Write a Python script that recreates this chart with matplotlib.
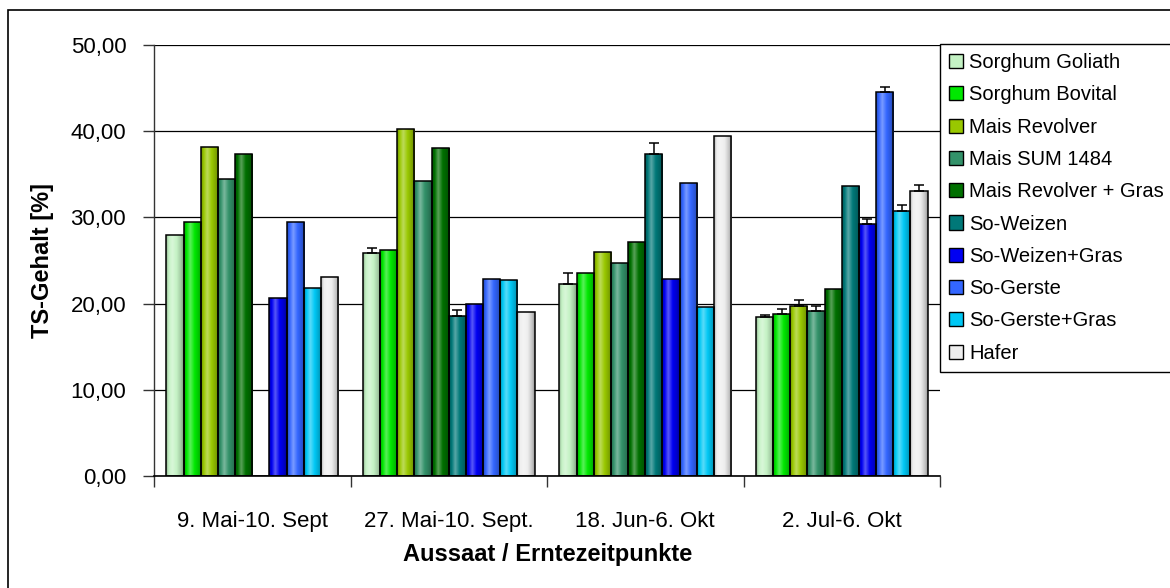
import matplotlib
matplotlib.use('Agg')
import matplotlib.pyplot as plt
import matplotlib.colors as mcolors
from matplotlib.patches import Rectangle
import numpy as np

plt.rcParams['font.family'] = ['Liberation Sans', 'DejaVu Sans']

# Aussaat / Erntezeitpunkte
categories = ['9. Mai-10. Sept', '27. Mai-10. Sept.', '18. Jun-6. Okt', '2. Jul-6. Okt']
series_names = ['Sorghum Goliath', 'Sorghum Bovital', 'Mais Revolver', 'Mais SUM 1484',
                'Mais Revolver + Gras', 'So-Weizen', 'So-Weizen+Gras', 'So-Gerste',
                'So-Gerste+Gras', 'Hafer']

# TS-Gehalt [%] je Sorte und Termin
goliath = [28.0, 25.9, 22.3, 18.5]
bovital = [29.5, 26.2, 23.6, 18.8]
mais_revolver = [38.2, 40.2, 26.0, 19.7]
mais_sum = [34.5, 34.2, 24.7, 19.1]
mais_rev_gras = [37.4, 38.0, 27.1, 21.7]
so_weizen = [0.0, 18.6, 37.4, 33.6]
so_weizen_gras = [20.6, 20.0, 22.9, 29.2]
so_gerste = [29.5, 22.9, 34.0, 44.5]
so_gerste_gras = [21.8, 22.7, 19.6, 30.7]
hafer = [23.1, 19.0, 39.4, 33.1]

# Fehlerbalken (nur nach oben)
err_goliath = [0.0, 0.6, 1.2, 0.15]
err_bovital = [0.0, 0.0, 0.0, 0.6]
err_mais_revolver = [0.0, 0.0, 0.0, 0.75]
err_mais_sum = [0.0, 0.0, 0.0, 0.65]
err_mais_rev_gras = [0.0, 0.0, 0.0, 0.0]
err_so_weizen = [0.0, 0.6, 1.2, 0.0]
err_so_weizen_gras = [0.0, 0.0, 0.0, 0.6]
err_so_gerste = [0.0, 0.0, 0.0, 0.6]
err_so_gerste_gras = [0.0, 0.0, 0.0, 0.7]
err_hafer = [0.0, 0.0, 0.0, 0.65]

values = [goliath, bovital, mais_revolver, mais_sum, mais_rev_gras,
          so_weizen, so_weizen_gras, so_gerste, so_gerste_gras, hafer]
errors = [err_goliath, err_bovital, err_mais_revolver, err_mais_sum, err_mais_rev_gras,
          err_so_weizen, err_so_weizen_gras, err_so_gerste, err_so_gerste_gras, err_hafer]
colors = ['#c4f2c4', '#00e800', '#99c800', '#33926a', '#007000',
          '#007878', '#0000f2', '#3366ff', '#00c8f5', '#eeeeee']


def shade(c, f):
    # f<1 darker, f>1 lighter (towards white)
    rgb = np.array(mcolors.to_rgb(c))
    if f < 1:
        return rgb * f
    return rgb + (1 - rgb) * (f - 1)


def gradient(c, n=64):
    stops = [(0.0, 0.72), (0.12, 0.95), (0.35, 1.35), (0.6, 1.0), (0.85, 0.82), (1.0, 0.62)]
    ts = np.linspace(0, 1, n)
    fs = np.interp(ts, [s[0] for s in stops], [s[1] for s in stops])
    img = np.array([np.clip(shade(c, f), 0, 1) for f in fs])
    return img[np.newaxis, :, :]


fig = plt.figure(figsize=(11.7, 5.88), dpi=100)
ax = fig.add_axes([154 / 1170, 1 - 476 / 588, (940 - 154) / 1170, (476 - 45) / 588])

x = np.arange(len(categories))
n = len(series_names)
bw = 0.873 / n

for i in range(n):
    pos = x - 0.873 / 2 + bw * (i + 0.5)
    bars = ax.bar(pos, values[i], width=bw, color=colors[i], edgecolor='none', zorder=2)
    for b in bars:
        h = b.get_height()
        if h <= 0:
            continue
        im = ax.imshow(gradient(colors[i]), extent=[b.get_x(), b.get_x() + b.get_width(), 0, h],
                       aspect='auto', zorder=2.5, interpolation='bilinear')
        im.set_clip_path(b)
    ax.bar(pos, values[i], width=bw, facecolor='none', edgecolor='black', linewidth=1.1, zorder=3)
    err = np.array(errors[i])
    mask = err > 0
    if mask.any():
        ax.errorbar(pos[mask], np.array(values[i])[mask],
                    yerr=[np.zeros(mask.sum()), err[mask]],
                    fmt='none', ecolor='black', elinewidth=1.1, capsize=3.5, capthick=1.1, zorder=4)

ax.set_xlim(-0.5, len(categories) - 0.5)
ax.set_ylim(0, 50)
ax.set_yticks(np.arange(0, 51, 10))
ax.set_yticklabels([f'{v:.2f}'.replace('.', ',') for v in np.arange(0, 51, 10)], fontsize=16)
ax.set_xticks(x)
ax.set_xticklabels(categories, fontsize=16)
ax.set_xticks(np.arange(-0.5, len(categories), 1), minor=True)
ax.tick_params(axis='x', which='major', length=0, pad=25)
ax.tick_params(axis='x', which='minor', length=8, width=1, color='#333333', direction='out')
ax.tick_params(axis='y', length=8, width=1, color='#333333', pad=12)
ax.grid(axis='y', color='black', linewidth=0.9, zorder=0)
ax.set_axisbelow(True)
for s in ['top', 'right']:
    ax.spines[s].set_visible(False)
ax.spines['left'].set_color('#333333')
ax.spines['bottom'].set_color('black')
ax.spines['left'].set_linewidth(1)
ax.spines['bottom'].set_linewidth(1.2)

fig.text(548 / 1170, 1 - 554 / 588, 'Aussaat / Erntezeitpunkte', fontsize=17,
         fontweight='bold', ha='center', va='center')
fig.text(43 / 1170, 1 - 260 / 588, 'TS-Gehalt [%]', fontsize=17, fontweight='bold',
         rotation=90, ha='center', va='center')

handles = [Rectangle((0, 0), 1, 1, facecolor=c, edgecolor='black', linewidth=1) for c in colors]
leg = fig.legend(handles, series_names, loc='upper left', bbox_to_anchor=(940 / 1170, 1 - 44 / 588),
                 fontsize=14.5, frameon=True, fancybox=False, edgecolor='black', framealpha=1,
                 handlelength=0.7, handleheight=0.7, handletextpad=0.3, labelspacing=0.66,
                 borderpad=0.45, borderaxespad=0)
leg.get_frame().set_linewidth(1)

# aeusserer Rahmen
fig.patches.append(Rectangle((8 / 1170, -0.01), 1.0, 1 - 10 / 588 + 0.01, transform=fig.transFigure,
                             facecolor='none', edgecolor='black', linewidth=1.2))

fig.savefig('out.png', dpi=100)
